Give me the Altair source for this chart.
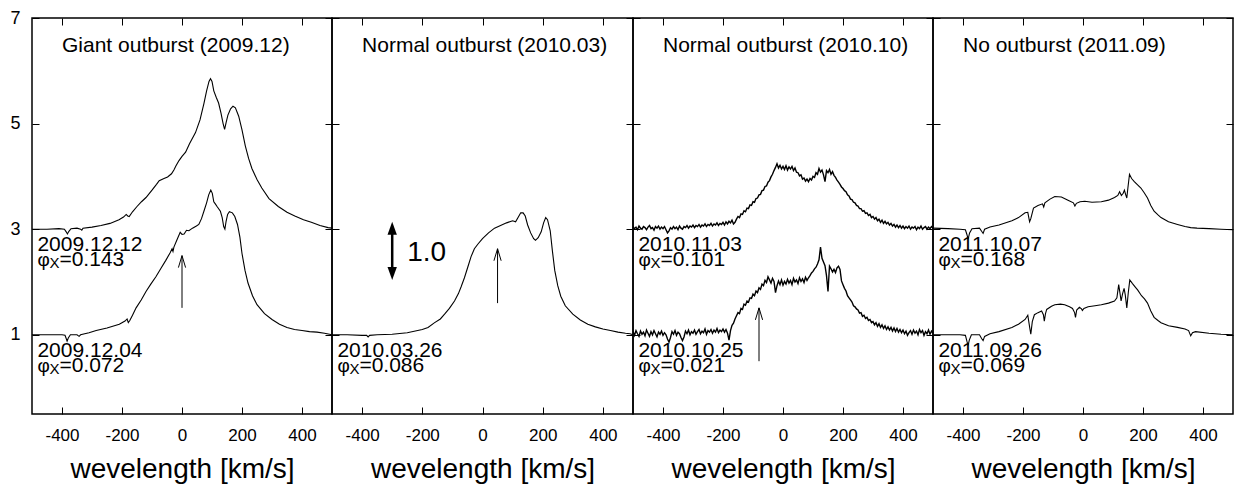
import altair as alt
import pandas as pd

FONT = "Liberation Sans"

# ---------------- data ----------------
TITLES = ["Giant outburst (2009.12)", "Normal outburst (2010.03)",
          "Normal outburst (2010.10)", "No outburst (2011.09)"]

# panel 1: 2009.12.12 (upper) and 2009.12.04 (lower)
P1A_V = [-500,-450,-410,-392,-386,-382,-377,-370,-350,-338,-334,-330,-300,-270,-240,-210,-195,-186,-181,-176,
         -165,-150,-135,-120,-100,-85,-76,-60,-48,-35,-27,-20,-10,0,12,25,45,60,73,82,
         90,95,100,106,114,122,130,137,142,147,153,162,170,178,189,200,211,222,233,250,
         266,290,321,350,376,405,431,460,487,500]
P1A_F = [3.00,3.00,3.01,3.00,2.95,2.91,2.96,3.01,3.02,3.00,2.98,3.02,3.04,3.07,3.11,3.18,3.23,3.28,3.25,3.24,
         3.33,3.43,3.52,3.60,3.74,3.85,3.92,3.96,3.99,4.05,4.12,4.20,4.30,4.38,4.46,4.62,4.83,5.07,5.38,5.62,
         5.80,5.85,5.80,5.62,5.50,5.39,5.20,5.00,4.89,5.02,5.16,5.28,5.33,5.30,5.14,4.88,4.58,4.34,4.15,3.94,
         3.78,3.58,3.43,3.32,3.25,3.18,3.13,3.07,3.03,3.02]
P1B_V = [-500,-450,-400,-390,-386,-383,-379,-372,-350,-343,-338,-310,-286,-250,-209,-190,-183,-179,-174,-165,
         -153,-136,-120,-104,-87,-70,-54,-40,-33,-30,-27,-16,-6,0,7,15,23,35,48,56,
         65,73,82,89,96,101,106,111,118,128,134,139,143,147,152,158,168,176,185,193,
         200,210,220,235,250,275,300,325,350,375,400,425,450,475,500]
P1B_F = [1.00,1.00,1.00,0.99,0.93,0.88,0.94,1.00,1.00,0.97,1.00,1.04,1.08,1.13,1.20,1.26,1.30,1.23,1.27,1.37,
         1.51,1.66,1.82,1.96,2.10,2.26,2.41,2.55,2.63,2.58,2.66,2.81,2.94,2.90,2.91,2.98,2.97,3.02,3.06,3.09,
         3.20,3.34,3.50,3.65,3.74,3.68,3.52,3.48,3.42,3.34,3.22,3.05,3.00,3.15,3.28,3.33,3.31,3.24,3.09,2.85,
         2.54,2.22,1.98,1.74,1.57,1.40,1.29,1.20,1.14,1.10,1.08,1.06,1.05,1.03,1.00]

# panel 2: 2010.03.26
P2_V = [-500,-450,-400,-385,-380,-375,-350,-300,-250,-200,-181,-159,-140,-126,-110,-93,-80,-71,-60,-49,
        -38,-27,-15,0,20,40,60,80,100,110,120,127,135,142,150,160,170,176,185,195,
        203,210,216,225,232,240,250,260,275,300,325,350,375,400,425,450,475,490,500]
P2_F = [1.00,1.00,0.99,0.99,0.96,0.99,1.00,1.01,1.04,1.10,1.14,1.23,1.30,1.39,1.50,1.64,1.78,1.91,2.08,2.28,
        2.48,2.63,2.72,2.82,2.93,3.02,3.07,3.12,3.16,3.14,3.24,3.31,3.31,3.25,3.08,2.93,2.82,2.79,2.84,2.95,
        3.12,3.22,3.18,2.97,2.60,2.22,1.93,1.73,1.55,1.39,1.28,1.20,1.15,1.11,1.08,1.05,1.03,1.02,1.00]

# panel 3: 2010.11.03 (upper) and 2010.10.25 (lower), noisy spectra on a 5 km/s grid
P3_V = list(range(-500, 501, 5))
P3A_F = [3.05,3.01,3.04,2.99,3.06,3.02,3.00,3.05,3.03,2.99,3.04,3.07,3.01,3.03,2.98,3.05,3.02,3.06,3.00,3.04,
         3.01,3.05,2.99,2.93,2.97,3.03,3.00,3.05,3.01,3.04,2.99,3.06,3.02,3.00,3.05,3.03,3.07,3.02,3.06,3.04,
         3.08,3.03,3.07,3.05,3.09,3.04,3.08,3.06,3.10,3.05,3.09,3.07,3.11,3.06,3.10,3.08,3.12,3.07,3.11,3.09,
         3.13,3.08,3.14,3.10,3.15,3.12,3.17,3.10,3.13,3.19,3.24,3.22,3.29,3.28,3.35,3.33,3.40,3.39,3.46,3.45,
         3.52,3.51,3.58,3.59,3.65,3.66,3.73,3.74,3.81,3.82,3.89,3.92,3.99,4.04,4.11,4.17,4.24,4.16,4.21,4.14,
         4.19,4.13,4.20,4.12,4.18,4.14,4.19,4.11,4.16,4.08,4.07,4.01,4.03,3.95,3.97,3.91,3.95,3.90,3.96,3.93,
         4.00,3.98,4.07,4.04,4.15,4.08,4.12,4.03,3.90,4.11,4.07,4.13,4.04,4.09,4.02,3.98,3.93,3.89,3.85,3.80,
         3.77,3.73,3.71,3.65,3.63,3.57,3.56,3.51,3.50,3.45,3.44,3.39,3.39,3.34,3.35,3.30,3.31,3.26,3.28,3.22,
         3.24,3.19,3.22,3.16,3.19,3.13,3.17,3.11,3.15,3.10,3.13,3.08,3.11,3.06,3.09,3.04,3.08,3.03,3.07,3.02,
         3.06,3.01,3.05,3.02,3.06,3.00,3.04,3.02,3.05,2.99,3.04,3.01,3.06,3.00,3.03,3.05,3.00,3.04,3.01,3.05,
         3.02]
P3B_F = [1.06,0.99,1.08,1.02,0.97,1.07,1.01,1.05,0.98,1.09,1.03,0.97,1.06,1.00,1.08,1.02,0.96,1.05,1.01,1.07,
         0.99,1.04,1.00,0.92,0.86,0.95,1.06,1.01,1.08,0.99,1.05,1.02,0.95,0.89,0.96,1.07,1.02,1.09,1.00,1.06,
         1.03,1.09,1.01,1.06,1.10,1.02,1.07,1.04,1.11,1.01,1.08,1.05,1.10,1.03,1.09,1.05,1.12,1.04,1.09,1.06,
         1.11,1.05,1.10,1.03,0.90,1.08,1.18,1.22,1.30,1.36,1.42,1.40,1.50,1.48,1.58,1.56,1.64,1.62,1.70,1.69,
         1.77,1.74,1.83,1.80,1.89,1.86,1.96,1.93,2.03,1.99,2.10,2.04,1.98,2.07,2.01,1.80,1.93,2.02,1.95,2.04,
         1.94,2.01,1.96,2.05,1.98,2.03,1.95,2.07,2.00,2.04,1.97,2.08,2.01,2.06,1.99,2.09,2.03,2.08,2.12,2.17,
         2.20,2.25,2.28,2.34,2.42,2.66,2.45,2.38,2.31,2.12,1.82,2.30,2.25,2.19,2.24,2.18,2.27,2.30,2.24,2.02,
         1.95,1.88,1.83,1.74,1.70,1.66,1.62,1.55,1.53,1.49,1.47,1.41,1.42,1.35,1.37,1.31,1.33,1.27,1.29,1.23,
         1.25,1.19,1.23,1.16,1.21,1.14,1.19,1.12,1.17,1.10,1.15,1.09,1.14,1.07,1.13,1.06,1.12,1.05,1.10,1.04,
         1.09,1.02,1.07,0.99,1.04,1.08,1.01,1.09,1.03,1.07,1.00,1.10,1.04,1.08,0.99,1.06,1.02,1.09,1.01,1.07,
         1.03]

# panel 4: 2011.10.07 (upper) and 2011.09.26 (lower)
P4A_V = [-500,-450,-410,-392,-387,-383,-378,-370,-345,-338,-333,-328,-310,-280,-237,-215,-193,-184,-178,-174,
         -165,-150,-135,-131,-127,-110,-94,-72,-50,-32,-27,-22,-10,6,30,61,85,105,116,122,
         128,134,138,142,146,150,155,162,171,182,193,204,215,226,237,250,260,285,315,340,
         359,380,420,460,500]
P4A_F = [3.02,3.01,3.00,2.99,2.90,2.81,2.93,3.01,3.02,2.96,2.92,3.00,3.04,3.08,3.16,3.22,3.31,3.32,3.14,3.20,
         3.40,3.45,3.48,3.42,3.50,3.57,3.62,3.61,3.55,3.50,3.44,3.49,3.52,3.53,3.51,3.52,3.55,3.60,3.64,3.71,
         3.64,3.68,3.74,3.66,3.59,3.80,4.04,3.96,3.90,3.84,3.78,3.69,3.59,3.45,3.34,3.27,3.22,3.14,3.09,3.05,
         3.03,3.02,3.01,3.00,2.99]
P4B_V = [-500,-450,-410,-392,-387,-383,-379,-372,-345,-338,-333,-328,-310,-280,-237,-215,-193,-184,-178,-174,
         -169,-162,-150,-138,-132,-129,-125,-121,-105,-94,-75,-61,-45,-35,-28,-25,-21,-12,-5,-2,
         3,17,40,61,85,105,113,119,123,127,132,137,141,146,151,156,165,175,182,195,
         205,215,226,237,250,260,285,315,340,352,359,365,375,420,460,500]
P4B_F = [1.00,1.00,1.00,0.99,0.88,0.80,0.90,1.00,1.00,0.93,0.89,0.97,1.02,1.06,1.14,1.20,1.29,1.37,1.15,1.01,
         1.25,1.38,1.42,1.45,1.38,1.26,1.40,1.48,1.54,1.57,1.58,1.57,1.53,1.50,1.42,1.33,1.47,1.52,1.49,1.46,
         1.50,1.53,1.55,1.57,1.60,1.64,1.70,1.95,1.80,1.64,1.78,1.88,1.75,1.51,1.80,2.04,1.97,1.90,1.85,1.74,
         1.68,1.60,1.45,1.33,1.27,1.23,1.17,1.14,1.11,1.08,0.98,1.04,1.06,1.03,1.01,1.00]

SPECTRA = [
    [("2009.12.12", P1A_V, P1A_F), ("2009.12.04", P1B_V, P1B_F)],
    [("2010.03.26", P2_V, P2_F)],
    [("2010.11.03", P3_V, P3A_F), ("2010.10.25", P3_V, P3B_F)],
    [("2011.10.07", P4A_V, P4A_F), ("2011.09.26", P4B_V, P4B_F)],
]
PHASES = [["0.143", "0.072"], ["0.086"], ["0.101", "0.021"], ["0.168", "0.069"]]
LEVELS = [[3, 1], [1], [3, 1], [3, 1]]

# marker arrows (velocity, tail flux, tip flux)
ARROWS = [(0, 1.51, 2.50), (50, 1.60, 2.63), (-80, 0.50, 1.51), None]
# scale bar in panel 2: velocity, lower tip, upper tip, label
SCALE_BAR = (-300, 2.04, 3.14, "1.0")
SCALE_LABEL_POS = (-250, 2.40)

X_DOMAIN = [-500, 500]
Y_DOMAIN = [-0.5, 7]
X_TICKS = [-400, -200, 0, 200, 400]
Y_TICKS = [1, 3, 5, 7]
TITLE_X = -400
LABEL_X = -482
WIDTHS = [300, 301, 300, 300]
HEIGHT = 396
LINE_W = [1.1, 1.1, 1.4, 1.1]

XS = alt.Scale(domain=X_DOMAIN, nice=False, zero=False)
YS = alt.Scale(domain=Y_DOMAIN, nice=False, zero=False)

TICK = dict(offset=-7, tickSize=7, domain=False, grid=False, tickColor="black", tickWidth=1)

BOTTOM_AXIS = alt.Axis(orient="bottom", values=X_TICKS, labelExpr="'' + datum.value",
                       labelFontSize=17, labelPadding=13, labelFlush=False, labelColor="black",
                       title="wevelength [km/s]", titleFontSize=28, titlePadding=12,
                       titleFontWeight="normal", titleColor="black", **TICK)
TOP_AXIS = alt.Axis(orient="top", values=X_TICKS, labels=False, title=None, **TICK)
RIGHT_AXIS = alt.Axis(orient="right", values=Y_TICKS, labels=False, title=None, **TICK)


def left_axis(show):
    return alt.Axis(orient="left", values=Y_TICKS, labels=show, labelFontSize=18,
                    labelPadding=12, labelColor="black", title=None, **TICK)


ARROW_OPEN = "M-0.3,1 L0,0 L0.3,1"
ARROW_UP = "M-0.36,1 L0,0 L0.36,1 Z"
ARROW_DOWN = "M-0.36,-1 L0,0 L0.36,-1 Z"


def text_layer(df, dx=0, dy=0, size=21):
    return alt.Chart(df).mark_text(align="left", baseline="alphabetic", dx=dx, dy=dy,
                                   fontSize=size, font=FONT, color="black").encode(
        x=alt.X("x:Q", scale=XS, axis=None),
        y=alt.Y("y:Q", scale=YS, axis=None),
        text="t:N")


panels = []
for i in range(4):
    rows = []
    for name, vs, fs in SPECTRA[i]:
        for v, f in zip(vs, fs):
            rows.append({"series": name, "v": v, "f": f})
    lines = alt.Chart(pd.DataFrame(rows)).mark_line(color="black", strokeWidth=LINE_W[i], clip=True).encode(
        x=alt.X("v:Q", scale=XS, axis=BOTTOM_AXIS),
        y=alt.Y("f:Q", scale=YS, axis=left_axis(i == 0)),
        detail="series:N")

    title = alt.Chart(pd.DataFrame({"x": [TITLE_X], "y": [Y_DOMAIN[1]], "t": [TITLES[i]]})).mark_text(
        align="left", baseline="alphabetic", dy=34, fontSize=21, font=FONT, color="black").encode(
        x=alt.X("x:Q", scale=XS, axis=TOP_AXIS),
        y=alt.Y("y:Q", scale=YS, axis=RIGHT_AXIS),
        text="t:N")

    n = len(LEVELS[i])
    dates = pd.DataFrame({"x": [LABEL_X] * n, "y": LEVELS[i], "t": [s[0] for s in SPECTRA[i]]})
    phis = pd.DataFrame({"x": [LABEL_X] * n, "y": LEVELS[i], "t": ["φ"] * n})
    subs = pd.DataFrame({"x": [LABEL_X] * n, "y": LEVELS[i], "t": ["X"] * n})
    vals = pd.DataFrame({"x": [LABEL_X] * n, "y": LEVELS[i], "t": ["=" + p for p in PHASES[i]]})

    layers = [lines, title,
              text_layer(dates, dy=22),
              text_layer(phis, dy=37, size=19),
              text_layer(subs, dx=12, dy=39, size=15),
              text_layer(vals, dx=22, dy=37)]

    if ARROWS[i] is not None:
        ax, ay1, ay2 = ARROWS[i]
        adf = pd.DataFrame({"x": [ax], "y1": [ay1], "y2": [ay2]})
        layers.append(alt.Chart(adf).mark_rule(color="black", strokeWidth=1).encode(
            x=alt.X("x:Q", scale=XS, axis=None),
            y=alt.Y("y1:Q", scale=YS, axis=None), y2="y2:Q"))
        layers.append(alt.Chart(adf).mark_point(shape=ARROW_OPEN, size=576, filled=False,
                                                color="black", strokeWidth=1, opacity=1).encode(
            x=alt.X("x:Q", scale=XS, axis=None),
            y=alt.Y("y2:Q", scale=YS, axis=None)))

    if i == 1:
        sx, sy1, sy2, slab = SCALE_BAR
        sdf = pd.DataFrame({"x": [sx], "y1": [sy1], "y2": [sy2]})
        layers.append(alt.Chart(sdf).transform_calculate(
            a="datum.y1 + 0.12", b="datum.y2 - 0.12").mark_rule(color="black", strokeWidth=2.5).encode(
            x=alt.X("x:Q", scale=XS, axis=None),
            y=alt.Y("a:Q", scale=YS, axis=None), y2="b:Q"))
        layers.append(alt.Chart(sdf).mark_point(shape=ARROW_UP, size=676, filled=True,
                                                color="black", opacity=1).encode(
            x=alt.X("x:Q", scale=XS, axis=None),
            y=alt.Y("y2:Q", scale=YS, axis=None)))
        layers.append(alt.Chart(sdf).mark_point(shape=ARROW_DOWN, size=676, filled=True,
                                                color="black", opacity=1).encode(
            x=alt.X("x:Q", scale=XS, axis=None),
            y=alt.Y("y1:Q", scale=YS, axis=None)))
        ldf = pd.DataFrame({"x": [SCALE_LABEL_POS[0]], "y": [SCALE_LABEL_POS[1]], "t": [slab]})
        layers.append(text_layer(ldf, size=28))

    panel = alt.layer(*layers).resolve_axis(x="independent", y="independent").properties(
        width=WIDTHS[i], height=HEIGHT)
    panels.append(panel)

chart = alt.hconcat(*panels, spacing=0, bounds="flush").properties(
    padding={"left": 1, "top": 0, "right": 0, "bottom": 0},
    background="white",
).configure_view(stroke="black", strokeWidth=1.5).configure_axis(
    labelFont=FONT, titleFont=FONT)

chart.save("out.html", embed_options={"renderer": "svg", "actions": False})
